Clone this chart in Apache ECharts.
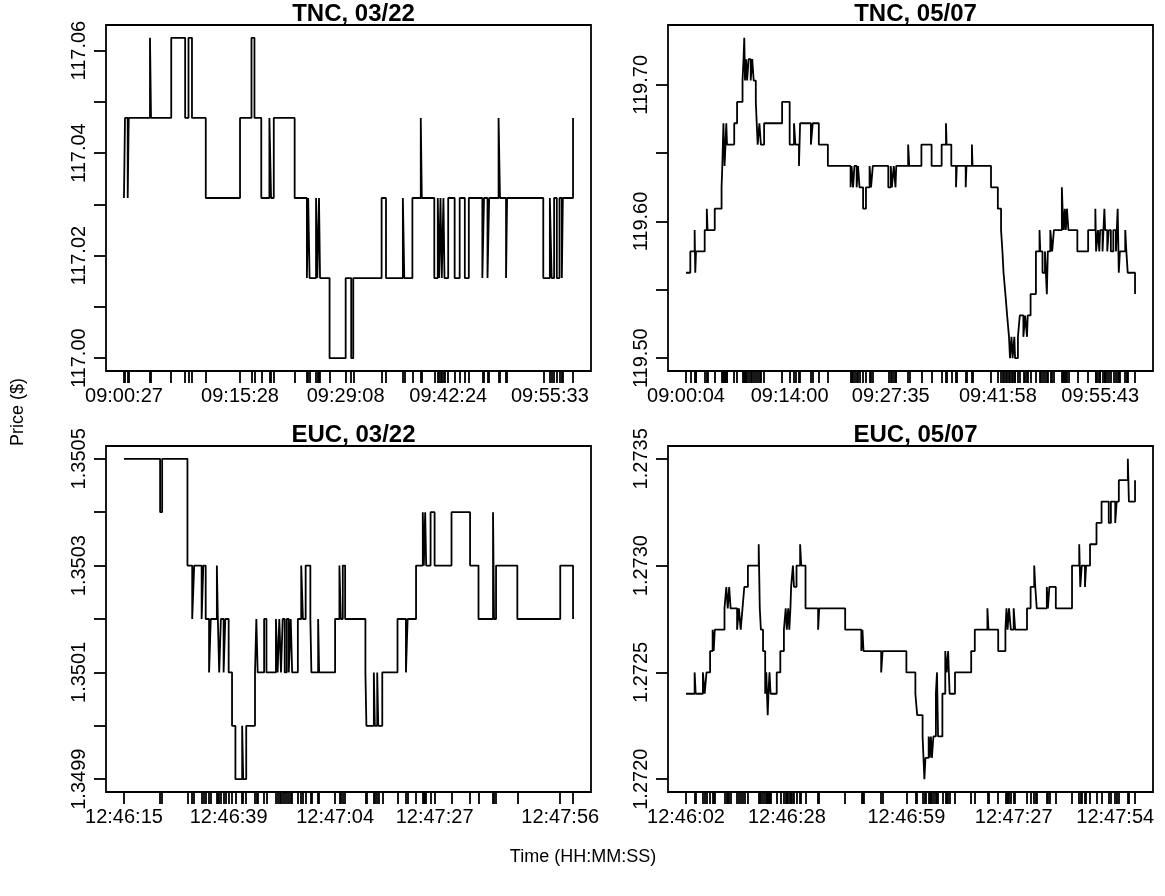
<!DOCTYPE html>
<html>
<head>
<meta charset="utf-8">
<script src="https://cdn.jsdelivr.net/npm/echarts@6/dist/echarts.min.js"></script>
<style>
html,body{margin:0;padding:0;background:#fff;}
#chart{width:1165px;height:896px;}
</style>
</head>
<body>
<div id="chart"></div>
<script>
// ---------------- DATA ----------------
// Panel titles
const panelTitles = ["TNC, 03/22", "TNC, 05/07", "EUC, 03/22", "EUC, 05/07"];

// TNC 03/22 : seconds after base time, trade price
const tncMarBase = "09:00:27";
const tncMarSec = [0,8,29,37,202,210,367,475,501,528,635,901,990,1013,1066,1129,1142,1163,1325,1420,1430,1441,1491,1501,1514,1522,1596,1721,1764,1780,2000,2034,2165,2176,2239,2304,2312,2409,2436,2446,2457,2467,2480,2488,2517,2567,2606,2646,2677,2782,2795,2822,2835,2908,2919,2966,2974,3255,3306,3320,3339,3360,3381,3399,3407,3486];
const tncMarPrice = [117.03125,117.046875,117.03125,117.046875,117.0625,117.046875,117.0625,117.046875,117.0625,117.046875,117.03125,117.046875,117.0625,117.046875,117.03125,117.046875,117.03125,117.046875,117.03125,117.015625,117.03125,117.015625,117.03125,117.015625,117.03125,117.015625,117.0,117.015625,117.0,117.015625,117.03125,117.015625,117.03125,117.015625,117.03125,117.046875,117.03125,117.015625,117.03125,117.015625,117.03125,117.015625,117.03125,117.015625,117.03125,117.015625,117.03125,117.015625,117.03125,117.015625,117.03125,117.015625,117.03125,117.046875,117.03125,117.015625,117.03125,117.015625,117.03125,117.015625,117.03125,117.015625,117.03125,117.015625,117.03125,117.046875];
const tncMarXLabels = ["09:00:27","09:15:28","09:29:08","09:42:24","09:55:33"];
const tncMarYTicks = [117.00,117.01,117.02,117.03,117.04,117.05,117.06];
const tncMarYLabels = [117.00,117.02,117.04,117.06];

// TNC 05/07
const tncMayBase = "09:00:04";
const tncMaySec = [0,35,70,75,81,151,168,174,232,287,293,302,311,319,325,331,389,412,456,464,470,476,485,493,505,522,534,546,563,578,592,604,630,775,836,871,882,911,920,1007,1022,1071,1144,1327,1335,1347,1358,1376,1387,1399,1428,1451,1480,1492,1506,1631,1651,1660,1675,1689,1695,1791,1800,1898,1980,2061,2096,2101,2139,2177,2183,2255,2261,2305,2310,2459,2514,2540,2551,2560,2575,2589,2604,2612,2624,2633,2647,2653,2676,2691,2720,2734,2749,2755,2778,2821,2850,2856,2874,2894,2909,2917,2937,2952,2966,3030,3036,3045,3054,3062,3071,3083,3155,3242,3300,3306,3321,3332,3339,3358,3373,3379,3396,3408,3425,3445,3466,3480,3489,3498,3541,3550,3561,3620];
const tncMayPrice = [119.5625,119.578125,119.59375,119.5625,119.578125,119.59375,119.609375,119.59375,119.609375,119.625,119.640625,119.671875,119.640625,119.65625,119.671875,119.65625,119.671875,119.6875,119.703125,119.71875,119.734375,119.703125,119.71875,119.703125,119.71875,119.703125,119.71875,119.703125,119.6875,119.65625,119.671875,119.65625,119.671875,119.6875,119.65625,119.671875,119.65625,119.640625,119.671875,119.65625,119.671875,119.65625,119.640625,119.625,119.640625,119.625,119.640625,119.625,119.640625,119.625,119.609375,119.625,119.640625,119.625,119.640625,119.625,119.640625,119.625,119.640625,119.625,119.640625,119.65625,119.640625,119.65625,119.640625,119.65625,119.671875,119.65625,119.640625,119.625,119.640625,119.625,119.640625,119.65625,119.640625,119.625,119.609375,119.59375,119.578125,119.5625,119.546875,119.53125,119.515625,119.5,119.515625,119.5,119.515625,119.5,119.515625,119.53125,119.515625,119.53125,119.515625,119.53125,119.546875,119.578125,119.59375,119.578125,119.5625,119.578125,119.546875,119.578125,119.59375,119.578125,119.59375,119.625,119.609375,119.59375,119.609375,119.59375,119.609375,119.59375,119.578125,119.59375,119.609375,119.578125,119.59375,119.578125,119.59375,119.578125,119.609375,119.59375,119.578125,119.59375,119.578125,119.59375,119.578125,119.609375,119.5625,119.578125,119.59375,119.578125,119.5625,119.546875];
const tncMayXLabels = ["09:00:04","09:14:00","09:27:35","09:41:58","09:55:43"];
const tncMayYTicks = [119.50,119.55,119.60,119.65,119.70];
const tncMayYLabels = [119.50,119.60,119.70];

// EUC 03/22
const eucMarBase = "12:46:15";
const eucMarSec = [0.28,8.64,9.11,14.96,16.06,16.52,18.24,18.63,19.18,19.96,20.35,21.76,21.99,22.30,22.69,23.32,23.71,24.49,25.27,26.05,27.61,27.85,28.55,30.58,30.89,31.20,32.69,33.23,35.42,35.81,36.20,36.59,36.98,37.45,37.92,38.39,38.85,39.17,40.49,41.27,41.66,42.29,43.38,43.62,45.18,45.41,49.10,50.10,50.41,50.88,51.42,56.11,56.34,58.06,58.29,58.84,59.08,60.01,63.53,65.48,65.87,67.82,69.38,69.62,69.93,70.16,71.18,72.11,76.02,80.31,82.26,85.62,85.85,86.32,91.24,101.16,104.12];
const eucMarPrice = [1.3505,1.3504,1.3505,1.3503,1.3502,1.3503,1.3502,1.3503,1.3502,1.3501,1.3502,1.3503,1.3502,1.3501,1.3502,1.3501,1.3502,1.3501,1.3500,1.3499,1.3500,1.3499,1.3500,1.3501,1.3502,1.3501,1.3502,1.3501,1.3502,1.3501,1.3502,1.3501,1.3502,1.3501,1.3502,1.3501,1.3502,1.3501,1.3502,1.3503,1.3502,1.3503,1.3502,1.3501,1.3502,1.3501,1.3502,1.3503,1.3502,1.3503,1.3502,1.3501,1.3500,1.3501,1.3500,1.3501,1.3500,1.3501,1.3502,1.3501,1.3502,1.3503,1.3504,1.3503,1.3504,1.3503,1.3504,1.3503,1.3504,1.3503,1.3502,1.3504,1.3502,1.3503,1.3502,1.3503,1.3502];
const eucMarXLabels = ["12:46:15","12:46:39","12:47:04","12:47:27","12:47:56"];
const eucMarYTicks = [1.3499,1.3500,1.3501,1.3502,1.3503,1.3504,1.3505];
const eucMarYLabels = [1.3499,1.3501,1.3503,1.3505];

// EUC 05/07
const eucMayBase = "12:46:02";
const eucMaySec = [0.27,2.53,2.81,4.69,5.16,5.63,6.57,7.23,7.51,7.79,10.33,10.80,11.18,11.55,11.93,13.62,14.09,14.56,15.03,15.50,16.44,19.26,19.54,19.83,20.39,20.95,21.24,21.42,21.61,21.80,22.08,22.36,23.96,24.90,25.84,26.31,26.60,26.97,27.25,27.54,27.72,28.19,28.47,29.13,30.07,30.36,31.48,34.77,35.06,41.83,46.05,46.34,46.62,51.23,51.60,57.81,60.16,60.63,62.04,62.51,62.79,63.63,63.92,64.20,64.48,64.86,65.51,65.80,66.08,67.21,67.96,68.33,68.71,69.09,70.50,74.73,75.67,78.96,79.24,81.78,83.66,83.94,84.22,84.60,85.07,85.82,86.20,89.30,90.24,91.18,91.46,91.84,94.47,94.75,95.13,96.82,101.05,102.93,103.21,103.59,104.43,104.72,105.75,107.44,108.76,110.64,111.20,112.33,112.71,113.27,115.62,115.90,117.50];
const eucMayPrice = [1.2724,1.2725,1.2724,1.2725,1.2724,1.2725,1.2726,1.2727,1.2726,1.2727,1.2728,1.2729,1.2728,1.2729,1.2728,1.2727,1.2728,1.2727,1.2728,1.2729,1.2730,1.2731,1.2728,1.2727,1.2726,1.2724,1.2725,1.2724,1.2723,1.2724,1.2725,1.2724,1.2725,1.2726,1.2727,1.2728,1.2727,1.2728,1.2727,1.2728,1.2729,1.2730,1.2729,1.2730,1.2731,1.2730,1.2728,1.2727,1.2728,1.2727,1.2726,1.2727,1.2726,1.2725,1.2726,1.2725,1.2724,1.2723,1.2722,1.2720,1.2721,1.2722,1.2721,1.2722,1.2721,1.2722,1.2724,1.2725,1.2722,1.2724,1.2726,1.2725,1.2726,1.2724,1.2725,1.2726,1.2727,1.2728,1.2727,1.2726,1.2727,1.2728,1.2727,1.2728,1.2727,1.2728,1.2727,1.2728,1.2729,1.2730,1.2729,1.2728,1.2729,1.2728,1.2729,1.2728,1.2730,1.2731,1.2729,1.2730,1.2729,1.2730,1.2731,1.2732,1.2733,1.2732,1.2733,1.2732,1.2733,1.2734,1.2735,1.2733,1.2734];
const eucMayXLabels = ["12:46:02","12:46:28","12:46:59","12:47:27","12:47:54"];
const eucMayYTicks = [1.2720,1.2725,1.2730,1.2735];
const eucMayYLabels = [1.2720,1.2725,1.2730,1.2735];

const yAxisTitle = "Price ($)";
const xAxisTitle = "Time (HH:MM:SS)";

// ---------------- BUILD ----------------
function sec(s){const p=s.split(':').map(Number);return p[0]*3600+p[1]*60+p[2];}
const panels = [
  {base:tncMarBase, t:tncMarSec, p:tncMarPrice, xl:tncMarXLabels, yt:tncMarYTicks, yl:tncMarYLabels, dec:2},
  {base:tncMayBase, t:tncMaySec, p:tncMayPrice, xl:tncMayXLabels, yt:tncMayYTicks, yl:tncMayYLabels, dec:2},
  {base:eucMarBase, t:eucMarSec, p:eucMarPrice, xl:eucMarXLabels, yt:eucMarYTicks, yl:eucMarYLabels, dec:4},
  {base:eucMayBase, t:eucMaySec, p:eucMayPrice, xl:eucMayXLabels, yt:eucMayYTicks, yl:eucMayYLabels, dec:4}
];
const FONT = '"Liberation Sans", Arial, Helvetica, sans-serif';
const LW = 1.8;
const gridPos = [
  {left:106, top:25, width:485, height:346},
  {left:668, top:25, width:485, height:346},
  {left:106, top:446, width:485, height:346},
  {left:668, top:446, width:485, height:346}
];
const grids=[], xAxes=[], yAxes=[], series=[], titles=[];
panels.forEach((P,i)=>{
  const b = sec(P.base);
  const xs = P.t.map(v=>b+v);
  const xmin = Math.min(...xs), xmax = Math.max(...xs);
  const ymin = Math.min(...P.p), ymax = Math.max(...P.p);
  const xr = xmax-xmin, yr = ymax-ymin;
  const lpos = P.xl.map(l=>{
    const s = sec(l);
    let best = xs[0], bd = Infinity;
    xs.forEach(x=>{const d=Math.abs(x-(s+0.5)); if(d<bd){bd=d;best=x;}});
    return best;
  });
  const g = gridPos[i];
  grids.push(Object.assign({show:true, borderColor:'#000', borderWidth:LW, backgroundColor:'transparent', containLabel:false}, g));
  xAxes.push({
    type:'value', gridIndex:i, min:xmin-0.04*xr, max:xmax+0.04*xr,
    axisLine:{show:false}, splitLine:{show:false},
    axisTick:{show:true, customValues:xs, length:12, inside:false, lineStyle:{color:'#000', width:LW}},
    axisLabel:{show:true, customValues:lpos, margin:15, color:'#000', fontSize:20, fontFamily:FONT,
      formatter:(v)=>{let k=0,bd=Infinity;lpos.forEach((q,j)=>{const d=Math.abs(q-v);if(d<bd){bd=d;k=j;}});return P.xl[k];}}
  });
  yAxes.push({
    type:'value', gridIndex:i, min:ymin-0.04*yr, max:ymax+0.04*yr,
    axisLine:{show:false}, splitLine:{show:false},
    axisTick:{show:true, customValues:P.yt, length:12, inside:false, lineStyle:{color:'#000', width:LW}},
    axisLabel:{show:true, customValues:P.yl, rotate:90, margin:17, color:'#000', fontSize:20, fontFamily:FONT,
      formatter:(v)=>Number(v).toFixed(P.dec)}
  });
  series.push({
    type:'line', xAxisIndex:i, yAxisIndex:i, step:'end', symbol:'none', animation:false,
    lineStyle:{color:'#000', width:LW},
    data: xs.map((x,j)=>[x, P.p[j]])
  });
  titles.push({text:panelTitles[i], left:g.left+g.width/2, top:g.top-28, textAlign:'center',
    textStyle:{fontSize:24, fontWeight:'bold', color:'#000', fontFamily:FONT}});
});

const chart = echarts.init(document.getElementById('chart'), null, {renderer:'canvas'});
chart.setOption({
  animation:false,
  backgroundColor:'#fff',
  title:titles,
  grid:grids, xAxis:xAxes, yAxis:yAxes, series:series,
  graphic:[
    {type:'text', x:18, y:412, rotation:Math.PI/2, style:{text:yAxisTitle, fill:'#000', font:'18px '+FONT, textAlign:'center', textVerticalAlign:'middle'}},
    {type:'text', x:583, y:857, style:{text:xAxisTitle, fill:'#000', font:'18px '+FONT, textAlign:'center', textVerticalAlign:'middle'}}
  ]
});
</script>
</body>
</html>
